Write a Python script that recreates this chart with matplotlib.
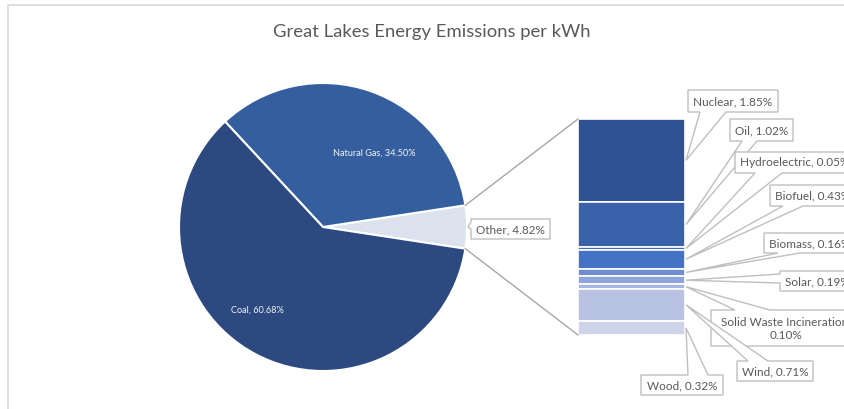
import matplotlib
matplotlib.use('Agg')
import matplotlib.pyplot as plt
from matplotlib.patches import Polygon
import numpy as np

plt.rcParams['font.family'] = ['Lato', 'DejaVu Sans']

# main pie data
main_labels = ['Coal', 'Natural Gas', 'Other']
main_values = [60.68, 34.50, 4.82]
main_colors = ['#2C4A80', '#355E9E', '#DCE1EE']

# the "Other" slice split into the bar
other_labels = ['Nuclear', 'Oil', 'Hydroelectric', 'Biofuel', 'Biomass', 'Solar',
                'Solid Waste Incineration', 'Wind', 'Wood']
other_values = [1.85, 1.02, 0.05, 0.43, 0.16, 0.19, 0.10, 0.71, 0.32]
other_colors = ['#2F5392', '#3962AA', '#3F6BBA', '#4472C4', '#6E8DCF', '#8DA4D8',
                '#A7B6E0', '#B8C3E3', '#CDD4EA']

title = 'Great Lakes Energy Emissions per kWh'

W, H = 845, 409
txt = '#595959'
line_c = '#A6A6A6'
box_c = '#BFBFBF'

fig = plt.figure(figsize=(W / 100, H / 100), dpi=100)
ax = fig.add_axes([0, 0, 1, 1])

# pie (y axis is flipped to pixel coords, so go clockwise in data space)
cx, cy, r = 323, 227, 144
other_deg = main_values[2] * 3.6
ax.pie([main_values[2], main_values[1], main_values[0]],
       colors=[main_colors[2], main_colors[1], main_colors[0]],
       startangle=other_deg / 2, counterclock=False, center=(cx, cy), radius=r,
       wedgeprops=dict(edgecolor='white', linewidth=1.5))

ax.set_xlim(0, W)
ax.set_ylim(H, 0)
ax.set_aspect('auto')
ax.axis('off')

ax.text(374, 153, f'{main_labels[1]}, {main_values[1]:.2f}%', color='#F2F2F2',
        fontsize=6.6, ha='center', va='center')
ax.text(257, 310, f'{main_labels[0]}, {main_values[0]:.2f}%', color='#F2F2F2',
        fontsize=6.6, ha='center', va='center')

# stacked bar for "Other"
bar_left, bar_right, bar_top, bar_bot = 578, 685, 119, 335
scale = (bar_bot - bar_top) / sum(other_values)
heights = np.array(other_values) * scale
bottoms = bar_top + np.concatenate([[0], np.cumsum(heights)[:-1]])
ax.bar((bar_left + bar_right) / 2, heights, width=bar_right - bar_left, bottom=bottoms,
       color=other_colors, edgecolor='white', linewidth=1.2)

# connector lines pie -> bar
a = np.radians(other_deg / 2)
ax.plot([cx + r * np.cos(a), bar_left], [cy - r * np.sin(a), bar_top], color=line_c, lw=1)
ax.plot([cx + r * np.cos(a), bar_left], [cy + r * np.sin(a), bar_bot], color=line_c, lw=1)


def callout(box, side, b0, b1, target, text, tx, ha='center'):
    x0, y0, x1, y1 = box
    if side == 'bottom':
        pts = [(x0, y0), (x1, y0), (x1, y1), (b1, y1), target, (b0, y1), (x0, y1)]
    elif side == 'top':
        pts = [(x0, y0), (b0, y0), target, (b1, y0), (x1, y0), (x1, y1), (x0, y1)]
    else:
        pts = [(x0, y0), (x1, y0), (x1, y1), (x0, y1), (x0, b1), target, (x0, b0)]
    ax.add_patch(Polygon(pts, closed=True, facecolor='white', edgecolor=box_c,
                         linewidth=1, zorder=3))
    ax.text(tx, (y0 + y1) / 2 + 0.5, text, color=txt, fontsize=8.5, ha=ha,
            va='center', zorder=4, linespacing=1.25)


# label layout: box, wedge side, wedge base
layout = [
    ((688, 90, 778, 112), 'bottom', 700, 726, 'center'),
    ((730, 119, 793, 141), 'bottom', 742, 757, 'center'),
    ((735, 152, 900, 173), 'bottom', 755, 782, 'left'),
    ((770, 185, 900, 206), 'bottom', 783, 803, 'left'),
    ((764, 233, 900, 253), 'bottom', 778, 800, 'left'),
    ((780, 271, 900, 291), 'left', 274, 283, 'left'),
    ((711, 310, 900, 346), 'top', 735, 770, 'center'),
    ((737, 361, 813, 381), 'top', 748, 768, 'center'),
    ((641, 375, 723, 395), 'top', 688, 708, 'center'),
]
for i, (box, side, b0, b1, ha) in enumerate(layout):
    ty = bottoms[i] + heights[i] / 2
    name = other_labels[i]
    if name == 'Solid Waste Incineration':
        label = f'{name},\n{other_values[i]:.2f}%'
        tx = 786
    else:
        label = f'{name}, {other_values[i]:.2f}%'
        tx = (box[0] + box[2]) / 2 if ha == 'center' else box[0] + 5
    callout(box, side, b0, b1, (bar_right + 1, ty), label, tx, ha)

callout((471, 219, 550, 239), 'left', 222, 229, (cx + r + 1, cy),
        f'{main_labels[2]}, {main_values[2]:.2f}%', 510.5)

ax.text(432, 32, title, color=txt, fontsize=13.3, ha='center', va='center')

# chart frame (cropped)
ax.plot([8.5, 8.5, W], [H, 5, 5], color='#D9D9D9', lw=1.2, clip_on=False)

fig.savefig('out.png', dpi=100)
